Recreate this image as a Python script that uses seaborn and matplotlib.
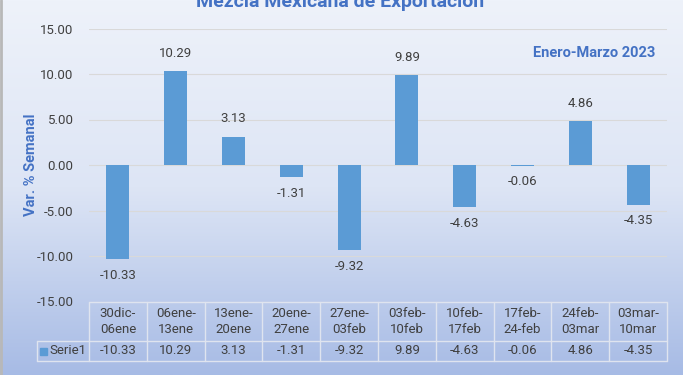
import numpy as np
import pandas as pd
import matplotlib
matplotlib.use("Agg")
import matplotlib.pyplot as plt
import seaborn as sns
import matplotlib.transforms as mtransforms
from matplotlib.lines import Line2D
from matplotlib.patches import Rectangle
from matplotlib.colors import LinearSegmentedColormap

categories = ["30dic-\n06ene", "06ene-\n13ene", "13ene-\n20ene", "20ene-\n27ene", "27ene-\n03feb",
              "03feb-\n10feb", "10feb-\n17feb", "17feb-\n24-feb", "24feb-\n03mar", "03mar-\n10mar"]
values = [-10.33, 10.29, 3.13, -1.31, -9.32, 9.89, -4.63, -0.06, 4.86, -4.35]
yticks = [-15, -10, -5, 0, 5, 10, 15]
series_name = "Serie1"
title = "Mezcla Mexicana de Exportación"
subtitle = "Enero-Marzo 2023"
ylabel = "Var. % Semanal"

sns.set_theme(style="white")
plt.rcParams["font.family"] = ["Roboto", "DejaVu Sans"]

W, H = 683, 375
fig = plt.figure(figsize=(W / 100, H / 100), dpi=100)

# gradient background
bg = fig.add_axes([0, 0, 1, 1], zorder=-10)
cmap = LinearSegmentedColormap.from_list("bg", ["#eef2fa", "#dde5f5", "#a7bbe5"])
grad = np.linspace(0, 1, 256).reshape(-1, 1)
bg.imshow(grad, aspect="auto", cmap=cmap, extent=[0, 1, 0, 1], origin="upper")
bg.set_axis_off()
bg.add_line(Line2D([0.002, 0.002], [0, 1], color="#b8b8b8", lw=2))

left_px, right_px, top_px, bot_px = 89, 667, 28.5, 301.5
ax = fig.add_axes([left_px / W, 1 - bot_px / H, (right_px - left_px) / W, (bot_px - top_px) / H])
ax.patch.set_alpha(0)

df = pd.DataFrame({"cat": categories, "val": values})
sns.barplot(data=df, x="cat", y="val", order=categories, color="#5b9bd5", width=0.4,
            saturation=1, ax=ax, zorder=3, edgecolor="none", linewidth=0)

ax.set_xlim(-0.5, len(categories) - 0.5)
ax.set_ylim(-15, 15)
ax.set_yticks(yticks)
ax.set_yticklabels([f"{t:.2f}" for t in yticks], color="#404040", fontsize=9.5)
ax.tick_params(axis="y", length=0, pad=11)
ax.set_xticks([])
ax.set_xlabel("")
ax.set_ylabel("")
for s in ax.spines.values():
    s.set_visible(False)
for t in yticks:
    ax.axhline(t, color="#d9d9d9", lw=0.8, zorder=1)

# data labels
for i, v in enumerate(values):
    if v >= 0:
        ax.annotate(f"{v:.2f}", (i, v), xytext=(0, 8), textcoords="offset points",
                    ha="center", va="bottom", fontsize=9.5, color="#404040")
    else:
        ax.annotate(f"{v:.2f}", (i, v), xytext=(0, -7), textcoords="offset points",
                    ha="center", va="top", fontsize=9.5, color="#404040")

# data table
trans = mtransforms.blended_transform_factory(ax.transData, fig.transFigure)
y_top = 1 - 302 / H
y_mid = 1 - 341 / H
y_bot = 1 - 361 / H
x_left = 37 / W
x_right = right_px / W
lc = "#dfe4ef"
fig.add_artist(Line2D([left_px / W, x_right], [y_top, y_top], color=lc, lw=1))
fig.add_artist(Line2D([x_left, x_right], [y_mid, y_mid], color=lc, lw=1))
fig.add_artist(Line2D([x_left, x_right], [y_bot, y_bot], color=lc, lw=1))
fig.add_artist(Line2D([x_left, x_left], [y_bot, y_mid], color=lc, lw=1))
for k in range(len(categories) + 1):
    ax.add_line(Line2D([k - 0.5, k - 0.5], [y_bot, y_top], transform=trans, color=lc, lw=1, clip_on=False))
for i, (c, v) in enumerate(zip(categories, values)):
    ax.text(i, (y_top + y_mid) / 2, c, transform=trans, ha="center", va="center",
            fontsize=9.5, color="#404040", linespacing=1.3)
    ax.text(i, (y_mid + y_bot) / 2, f"{v:.2f}", transform=trans, ha="center", va="center",
            fontsize=9.5, color="#404040")
fig.add_artist(Rectangle((40 / W, (y_mid + y_bot) / 2 - 3.5 / H), 7 / W, 7 / H,
                         transform=fig.transFigure, color="#5b9bd5"))
fig.text(49 / W, (y_mid + y_bot) / 2, series_name, ha="left", va="center", fontsize=9.5, color="#404040")

# titles (title is partly cut off at the top edge, as in the reference)
fig.text(340 / W, 1 - 7 / H, title, ha="center", va="baseline", fontsize=14,
         fontweight="bold", color="#4472c4")
fig.text(655 / W, 1 - 53 / H, subtitle, ha="right", va="center", fontsize=10.5,
         fontweight="bold", color="#4472c4")
fig.text(31 / W, 1 - 165 / H, ylabel, ha="center", va="center", rotation=90, fontsize=10.5,
         fontweight="bold", color="#4472c4")

fig.savefig("out.png", dpi=100)
